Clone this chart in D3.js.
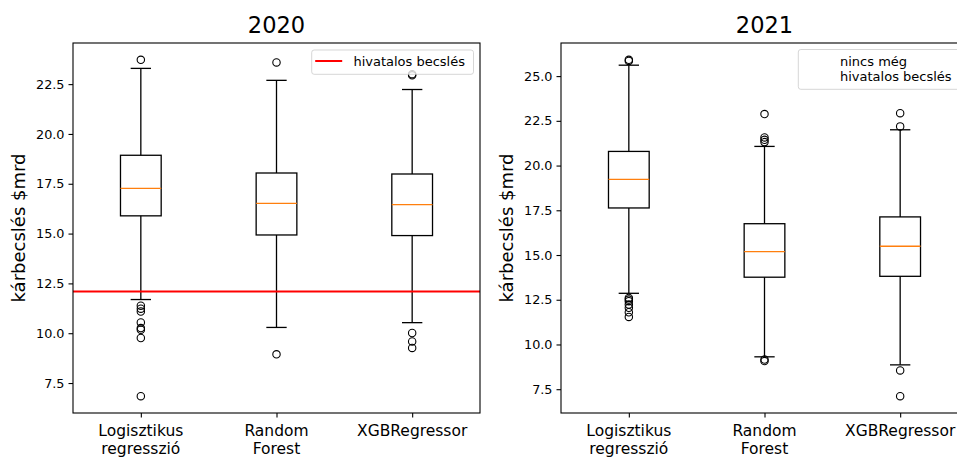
<!DOCTYPE html>
<html>
<head>
<meta charset="utf-8">
<script src="https://cdn.jsdelivr.net/npm/d3@7.9.0/dist/d3.min.js"></script>
<style>
  body { margin: 0; background: #fff; }
  svg { display: block; font-family: "DejaVu Sans", sans-serif; }
</style>
</head>
<body>
<svg id="chart" width="957" height="457"></svg>
<script>
const models = ['Logisztikus\nregresszió', 'Random\nForest', 'XGBRegressor'];

// 2020 box stats
const lo2020 = [11.69, 10.29, 10.53];
const q1_2020 = [15.89, 14.93, 14.90];
const med2020 = [17.27, 16.52, 16.45];
const q3_2020 = [18.93, 18.04, 17.99];
const hi2020 = [23.29, 22.69, 22.23];
const fliers2020 = [
  [23.72, 11.38, 11.23, 11.09, 10.54, 10.26, 10.18, 9.76, 6.84],
  [23.59, 8.94],
  [22.94, 23.0, 10.01, 9.59, 9.26]
];
const official2020 = 12.09;

// 2021 box stats
const lo2021 = [12.86, 9.31, 8.86];
const q1_2021 = [17.63, 13.76, 13.81];
const med2021 = [19.23, 15.19, 15.49];
const q3_2021 = [20.79, 16.75, 17.13];
const hi2021 = [25.61, 21.07, 22.0];
const fliers2021 = [
  [25.85, 25.91, 12.6, 12.51, 12.42, 12.23, 12.05, 11.8, 11.54],
  [22.88, 21.57, 21.44, 21.31, 9.16, 9.07],
  [22.93, 22.19, 8.55, 7.11]
];

const yTicks = [7.5, 10.0, 12.5, 15.0, 17.5, 20.0, 22.5, 25.0];

const svg = d3.select('#chart');
const lw = 1.3;

function drawPanel(p, idx) {
  const { left, right, top, bottom } = p.box;
  const all = [...p.lo, ...p.hi, ...p.fliers.flat()];
  const [mn, mx] = d3.extent(all);
  const pad = (mx - mn) * 0.05;
  const y = d3.scaleLinear().domain([mn - pad, mx + pad]).range([bottom, top]);
  const x = d3.scaleLinear().domain([0.5, 3.5]).range([left, right]);
  const boxW = x(0.3) - x(0);
  const capW = boxW / 2;

  const g = svg.append('g');

  g.append('clipPath').attr('id', 'clip' + idx)
    .append('rect')
    .attr('x', left).attr('y', top)
    .attr('width', right - left).attr('height', bottom - top);

  const plot = g.append('g').attr('clip-path', `url(#clip${idx})`);

  models.forEach((m, i) => {
    const cx = x(i + 1);
    // whiskers
    plot.append('line')
      .attr('x1', cx).attr('x2', cx)
      .attr('y1', y(p.q1[i])).attr('y2', y(p.lo[i]))
      .attr('stroke', '#000').attr('stroke-width', lw);
    plot.append('line')
      .attr('x1', cx).attr('x2', cx)
      .attr('y1', y(p.q3[i])).attr('y2', y(p.hi[i]))
      .attr('stroke', '#000').attr('stroke-width', lw);
    // caps
    [p.lo[i], p.hi[i]].forEach(v => {
      plot.append('line')
        .attr('x1', cx - capW / 2).attr('x2', cx + capW / 2)
        .attr('y1', y(v)).attr('y2', y(v))
        .attr('stroke', '#000').attr('stroke-width', lw);
    });
    // box
    plot.append('rect')
      .attr('x', cx - boxW / 2).attr('width', boxW)
      .attr('y', y(p.q3[i])).attr('height', y(p.q1[i]) - y(p.q3[i]))
      .attr('fill', 'none').attr('stroke', '#000').attr('stroke-width', lw);
    // median
    plot.append('line')
      .attr('x1', cx - boxW / 2).attr('x2', cx + boxW / 2)
      .attr('y1', y(p.med[i])).attr('y2', y(p.med[i]))
      .attr('stroke', '#ff7f0e').attr('stroke-width', lw);
    // fliers
    p.fliers[i].forEach(v => {
      plot.append('circle')
        .attr('cx', cx).attr('cy', y(v)).attr('r', 3.7)
        .attr('fill', 'none').attr('stroke', '#000').attr('stroke-width', 1.1);
    });
  });

  if (p.official != null) {
    plot.append('line')
      .attr('x1', left).attr('x2', right)
      .attr('y1', y(p.official)).attr('y2', y(p.official))
      .attr('stroke', '#ff0000').attr('stroke-width', 2);
  }

  // axes
  const yAxis = g.append('g')
    .attr('transform', `translate(${left},0)`)
    .call(d3.axisLeft(y)
      .tickValues(yTicks.filter(t => t >= y.domain()[0] && t <= y.domain()[1]))
      .tickFormat(d3.format('.1f'))
      .tickSize(4.5).tickPadding(4));
  yAxis.select('.domain').remove();
  yAxis.selectAll('.tick line').attr('stroke', '#000').attr('stroke-width', 1.1);
  yAxis.selectAll('.tick text')
    .attr('font-family', '"DejaVu Sans", sans-serif')
    .attr('font-size', 12.8).attr('fill', '#000');

  const xAxis = g.append('g')
    .attr('transform', `translate(0,${bottom})`)
    .call(d3.axisBottom(x).tickValues([1, 2, 3]).tickFormat('').tickSize(4.5));
  xAxis.select('.domain').remove();
  xAxis.selectAll('.tick line').attr('stroke', '#000').attr('stroke-width', 1.1);

  models.forEach((m, i) => {
    const t = g.append('text')
      .attr('text-anchor', 'middle')
      .attr('font-size', 15.5)
      .attr('fill', '#000');
    m.split('\n').forEach((line, k) => {
      t.append('tspan')
        .attr('x', x(i + 1))
        .attr('y', bottom + 22.6 + k * 18)
        .text(line);
    });
  });

  // spines
  g.append('rect')
    .attr('x', left).attr('y', top)
    .attr('width', right - left).attr('height', bottom - top)
    .attr('fill', 'none').attr('stroke', '#000').attr('stroke-width', 1.1);

  // title
  g.append('text')
    .attr('x', (left + right) / 2).attr('y', 33)
    .attr('text-anchor', 'middle')
    .attr('font-size', 22.5).attr('fill', '#000')
    .text(p.title);

  // y label
  g.append('text')
    .attr('transform', `translate(${p.ylabelX},${(top + bottom) / 2}) rotate(-90)`)
    .attr('text-anchor', 'middle')
    .attr('font-size', 18).attr('fill', '#000')
    .text('kárbecslés $mrd');

  // legend
  const lg = p.legend;
  g.append('rect')
    .attr('x', lg.x).attr('y', lg.y)
    .attr('width', lg.w).attr('height', lg.h)
    .attr('rx', 2.5)
    .attr('fill', '#fff').attr('fill-opacity', 0.8)
    .attr('stroke', '#cccccc').attr('stroke-opacity', 0.8).attr('stroke-width', 1);
  if (lg.color) {
    g.append('line')
      .attr('x1', lg.x + 3.5).attr('x2', lg.x + 30.5)
      .attr('y1', lg.y + 11).attr('y2', lg.y + 11)
      .attr('stroke', lg.color).attr('stroke-width', 2);
  }
  const lt = g.append('text').attr('font-size', 13).attr('fill', '#000');
  lg.lines.forEach((line, k) => {
    lt.append('tspan')
      .attr('x', lg.x + 41.7)
      .attr('y', lg.y + 16 + k * 15)
      .text(line);
  });
}

drawPanel({
  title: '2020',
  box: { left: 73, right: 480, top: 43, bottom: 413 },
  lo: lo2020, q1: q1_2020, med: med2020, q3: q3_2020, hi: hi2020,
  fliers: fliers2020, official: official2020,
  ylabelX: 25,
  legend: { x: 311.7, y: 50, w: 161.8, h: 24.3, color: '#ff0000', lines: ['hivatalos becslés'] }
}, 0);

drawPanel({
  title: '2021',
  box: { left: 561, right: 968, top: 43, bottom: 413 },
  lo: lo2021, q1: q1_2021, med: med2021, q3: q3_2021, hi: hi2021,
  fliers: fliers2021, official: null,
  ylabelX: 513,
  legend: { x: 798.3, y: 49.5, w: 163.2, h: 39.8, color: null, lines: ['nincs még', 'hivatalos becslés'] }
}, 1);
</script>
</body>
</html>
